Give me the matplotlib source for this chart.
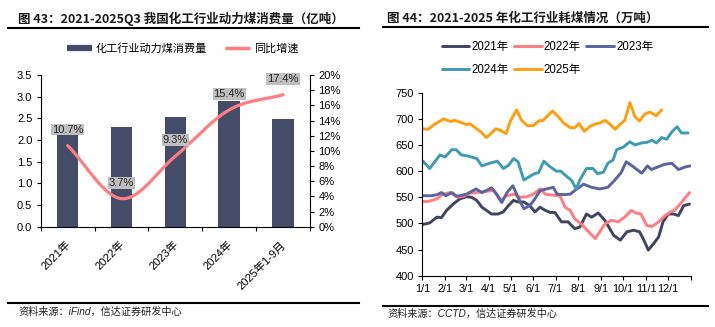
import numpy as np
import matplotlib
matplotlib.use("Agg")
import matplotlib.pyplot as plt
from matplotlib.lines import Line2D
import matplotlib.transforms as mtransforms

plt.rcParams['font.family'] = ['Liberation Sans', 'Noto Sans CJK SC']
plt.rcParams['axes.unicode_minus'] = False

# ---------------- Left chart data ----------------
categories = ["2021年", "2022年", "2023年", "2024年", "2025年1-9月"]
consumption = [2.12, 2.30, 2.52, 2.91, 2.48]          # 亿吨
yoy = [10.7, 3.7, 9.3, 15.4, 17.4]                     # %
yoy_labels = ["10.7%", "3.7%", "9.3%", "15.4%", "17.4%"]

# ---------------- Right chart data (day of year, 万吨) ----------------
days_2021 = [1, 10, 20, 26, 33, 42, 51, 60, 67, 74, 81, 87, 94, 103, 110, 117, 124, 130, 138, 146,
             153, 160, 167, 174, 180, 189, 198, 207, 214, 223, 230, 239, 248, 260, 269, 278, 287, 295,
             300, 307, 314, 321, 327, 334, 341, 348, 355, 363]
vals_2021 = [498, 501, 512, 511, 525, 537, 547, 551, 550, 544, 531, 525, 518, 518, 522, 534, 544, 541,
             541, 534, 522, 531, 525, 521, 521, 503, 503, 490, 493, 518, 512, 520, 506, 477, 468, 484,
             487, 484, 471, 449, 461, 474, 503, 518, 518, 515, 534, 537]

days_2022 = [1, 8, 20, 28, 38, 47, 56, 65, 74, 85, 97, 106, 115, 124, 133, 142, 151, 160, 167, 178,
             187, 194, 201, 207, 216, 226, 235, 241, 248, 257, 266, 275, 284, 290, 297, 305, 312, 321,
             330, 337, 343, 352, 363]
vals_2022 = [542, 542, 547, 556, 559, 550, 552, 558, 559, 561, 563, 544, 553, 556, 550, 551, 556, 566,
             556, 554, 553, 531, 525, 509, 499, 484, 471, 484, 499, 506, 503, 512, 525, 520, 518, 496,
             494, 503, 515, 522, 525, 540, 559]

days_2023 = [1, 13, 20, 26, 32, 40, 47, 60, 73, 81, 87, 94, 101, 108, 115, 123, 130, 138, 146, 153,
             160, 169, 178, 183, 192, 201, 210, 219, 230, 241, 252, 261, 270, 277, 287, 298, 306, 311,
             320, 329, 339, 348, 357, 364]
vals_2023 = [553, 553, 555, 559, 553, 559, 552, 556, 566, 559, 563, 568, 556, 540, 559, 572, 550, 528,
             534, 547, 563, 566, 569, 556, 555, 556, 566, 575, 569, 566, 569, 582, 597, 618, 608, 596,
             610, 603, 608, 613, 615, 603, 608, 610]

days_2024 = [1, 10, 17, 24, 31, 40, 46, 53, 62, 74, 81, 87, 94, 102, 110, 117, 124, 130, 138, 145,
             152, 158, 165, 173, 182, 188, 196, 203, 209, 214, 223, 232, 238, 246, 252, 259, 264, 273,
             282, 289, 298, 305, 312, 318, 325, 332, 339, 346, 352, 361]
vals_2024 = [619, 605, 618, 631, 627, 641, 641, 631, 629, 624, 610, 613, 616, 619, 605, 611, 624, 618,
             583, 589, 595, 597, 619, 609, 600, 600, 590, 582, 566, 583, 605, 605, 595, 598, 615, 621,
             641, 646, 656, 650, 654, 655, 659, 654, 664, 661, 675, 685, 673, 673]

days_2025 = [1, 8, 15, 29, 38, 44, 51, 60, 65, 74, 81, 87, 94, 100, 106, 114, 119, 128, 135, 143,
             151, 158, 164, 177, 185, 192, 201, 207, 213, 220, 228, 237, 241, 248, 255, 262, 269, 275,
             282, 289, 295, 302, 309, 318, 325]
vals_2025 = [681, 680, 688, 700, 695, 697, 694, 689, 690, 681, 673, 664, 673, 681, 678, 672, 694, 717,
             697, 687, 687, 696, 697, 715, 704, 692, 683, 683, 691, 676, 686, 691, 692, 697, 690, 680,
             690, 697, 731, 704, 696, 709, 713, 706, 717]

month_start_days = [0, 31, 59, 90, 120, 151, 181, 212, 243, 273, 304, 334]
month_labels = ["1/1", "2/1", "3/1", "4/1", "5/1", "6/1", "7/1", "8/1", "9/1", "10/1", "11/1", "12/1"]

series = [("2021年", days_2021, vals_2021, "#40455F"),
          ("2022年", days_2022, vals_2022, "#FF7C80"),
          ("2023年", days_2023, vals_2023, "#5A64A0"),
          ("2024年", days_2024, vals_2024, "#3D9BB6"),
          ("2025年", days_2025, vals_2025, "#FF9E0C")]

BAR = "#444C6A"
RED = "#FF7C80"
W, H = 715, 327

fig = plt.figure(figsize=(W / 100, H / 100), dpi=100)


def fx(px):
    return px / W


def fy(py):
    return 1 - py / H


# ---------- titles and rules ----------
fig.text(fx(18), fy(18.5), "图 43：2021-2025Q3 我国化工行业动力煤消费量（亿吨）",
         fontsize=9, fontweight='bold', color='#1a1a1a', va='center', ha='left',
         family=['Noto Sans CJK SC'])
fig.text(fx(387), fy(18.5), "图 44：2021-2025 年化工行业耗煤情况（万吨）",
         fontsize=9, fontweight='bold', color='#1a1a1a', va='center', ha='left',
         family=['Noto Sans CJK SC'])
fig.add_artist(Line2D([fx(8), fx(359)], [fy(27.5), fy(27.5)], color='black', lw=1.5))
fig.add_artist(Line2D([fx(383), fx(708)], [fy(27), fy(27)], color='black', lw=1.5))
fig.add_artist(Line2D([fx(8), fx(359)], [fy(302.7), fy(302.7)], color='black', lw=1.5))
fig.add_artist(Line2D([fx(383), fx(708)], [fy(305.5), fy(305.5)], color='black', lw=1.5))
fig.text(fx(18), fy(311.5), "资料来源：iFind，信达证券研发中心", fontsize=7.3, style='italic',
         color='#222222', va='center', ha='left')
fig.text(fx(387), fy(314), "资料来源：CCTD，信达证券研发中心", fontsize=7.3, style='italic',
         color='#222222', va='center', ha='left')

# ---------- left chart ----------
ax = fig.add_axes([fx(40.7), fy(226.7), fx(310 - 40.7), (226.7 - 75) / H])
x = np.arange(len(categories))
ax.bar(x, consumption, width=0.4, color=BAR, zorder=2)
ax.set_xlim(-0.5, len(categories) - 0.5)
ax.set_ylim(0, 3.5)
ax.set_yticks(np.arange(0, 3.51, 0.5))
ax.set_yticklabels([f"{v:.1f}" for v in np.arange(0, 3.51, 0.5)])
ax.set_xticks(np.arange(-0.5, len(categories), 1.0))
ax.set_xticklabels([])
ax.set_xticks(x, minor=True)
ax.set_xticklabels(categories, minor=True, rotation=45, ha='right')
ax.tick_params(axis='x', which='major', direction='out', length=3, width=0.8)
ax.tick_params(axis='x', which='minor', length=0, pad=9, labelsize=8)
ax.tick_params(axis='y', direction='out', length=3, width=0.8, labelsize=8, pad=3)
offset = mtransforms.ScaledTranslation(5 / 100, 0, fig.dpi_scale_trans)
for lab in ax.get_xticklabels(minor=True):
    lab.set_transform(lab.get_transform() + offset)
for s in ['top', 'right']:
    ax.spines[s].set_visible(False)
for s in ['left', 'bottom']:
    ax.spines[s].set_linewidth(0.8)

ax2 = ax.twinx()
ax2.set_ylim(0, 20)
ax2.set_yticks(np.arange(0, 21, 2))
ax2.set_yticklabels([f"{v}%" for v in range(0, 21, 2)])
ax2.tick_params(axis='y', direction='out', length=3, width=0.8, labelsize=8, pad=3)
for s in ['top', 'left', 'bottom']:
    ax2.spines[s].set_visible(False)
ax2.spines['right'].set_linewidth(0.8)

# smooth curve through the yoy points (cubic Hermite, Catmull-Rom tangents)
yv = np.array(yoy, dtype=float)
n = len(yv)
tang = np.zeros(n)
tang[0] = yv[1] - yv[0]
tang[-1] = yv[-1] - yv[-2]
for i in range(1, n - 1):
    tang[i] = (yv[i + 1] - yv[i - 1]) / 2
xs, ys = [], []
for i in range(n - 1):
    t = np.linspace(0, 1, 40)
    h00 = 2 * t**3 - 3 * t**2 + 1
    h10 = t**3 - 2 * t**2 + t
    h01 = -2 * t**3 + 3 * t**2
    h11 = t**3 - t**2
    xs.append(i + t)
    ys.append(h00 * yv[i] + h10 * tang[i] + h01 * yv[i + 1] + h11 * tang[i + 1])
ax2.plot(np.concatenate(xs), np.concatenate(ys), color=RED, lw=2.3, solid_capstyle='round', zorder=3)
for i, (v, lab) in enumerate(zip(yoy, yoy_labels)):
    ax2.annotate(lab, (i, v), xytext=(0, 11.5), textcoords='offset points', ha='center', va='center',
                 fontsize=8, color='#222222', zorder=5,
                 bbox=dict(boxstyle='square,pad=0.08', fc='#BFBFBF', ec='none'))

handles_l = [Line2D([], [], color=BAR, lw=4.5, solid_capstyle='butt'),
             Line2D([], [], color=RED, lw=2.5, solid_capstyle='butt')]
fig.legend(handles_l, ["化工行业动力煤消费量", "同比增速"], loc='center',
           bbox_to_anchor=(fx(182.5), fy(48.3)), ncol=2, frameon=False, fontsize=8,
           handlelength=2.3, handletextpad=0.3, columnspacing=1.6, borderpad=0, borderaxespad=0)

# ---------- right chart ----------
axr = fig.add_axes([fx(422.3), fy(275.7), fx(691 - 422.3), (275.7 - 92.7) / H])
lines = {}
for name, d, v, c in series:
    ln, = axr.plot(d, v, color=c, lw=2.1, label=name, solid_joinstyle='round', solid_capstyle='round')
    lines[name] = ln
axr.set_xlim(0, 365)
axr.set_ylim(400, 750)
axr.set_yticks(range(400, 751, 50))
axr.set_xticks(month_start_days + [365])
axr.set_xticklabels(month_labels + [""])
axr.tick_params(axis='x', direction='out', length=3, width=0.8, labelsize=7.8, pad=3)
axr.tick_params(axis='y', direction='out', length=3, width=0.8, labelsize=8, pad=3)
for s in ['top', 'right']:
    axr.spines[s].set_visible(False)
for s in ['left', 'bottom']:
    axr.spines[s].set_linewidth(0.8)

order = ["2021年", "2024年", "2022年", "2025年", "2023年"]
fig.legend([lines[k] for k in order], order, loc='center',
           bbox_to_anchor=(fx(547.5), fy(58.3)), ncol=3, frameon=False, fontsize=8.3,
           handlelength=2.4, handletextpad=0.2, columnspacing=0.45, labelspacing=1.0,
           borderpad=0, borderaxespad=0)

fig.savefig("out.png", dpi=100)
